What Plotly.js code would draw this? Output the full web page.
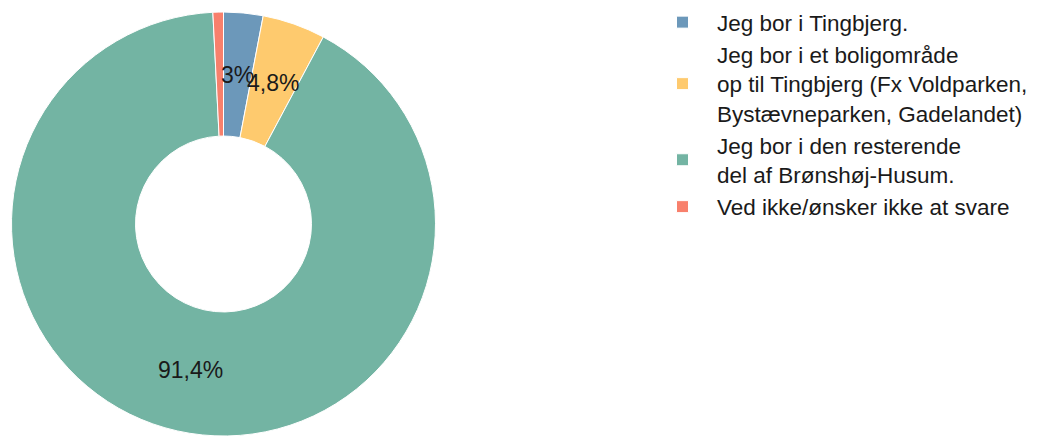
<!DOCTYPE html>
<html>
<head>
<meta charset="utf-8">
<script src="https://cdn.plot.ly/plotly-3.0.1.min.js"></script>
<style>html,body{margin:0;padding:0;background:#fff;}#chart{width:1053px;height:437px;}</style>
</head>
<body>
<div id="chart"></div>
<script>
const categories = [
  "Jeg bor i Tingbjerg.",
  "Jeg bor i et boligområde<br>op til Tingbjerg (Fx Voldparken,<br>Bystævneparken, Gadelandet)",
  "Jeg bor i den resterende<br>del af Brønshøj-Husum.",
  "Ved ikke/ønsker ikke at svare"
];
const values = [3.0, 4.8, 91.4, 0.8];
const valueLabels = ["3%", "4,8%", "91,4%", ""];
const colors = ["#6c98ba", "#feca6e", "#73b4a3", "#f8806c"];

const W = 1053, H = 437;
const cx = 223.5, cy = 224, R = 212, holeFrac = 0.415;
const domainX = [(cx - R) / W, (cx + R) / W];
const domainY = [1 - (cy + R) / H, 1 - (cy - R) / H];

// label positions at the ring's middle, from slice mid-angles (clockwise from 12 o'clock)
const total = values.reduce((a, b) => a + b, 0);
const rMid = R * (1 + holeFrac) / 2;
const annotations = [];
let cum = 0;
values.forEach((v, i) => {
  const mid = (cum + v / 2) / total * 2 * Math.PI;
  cum += v;
  if (!valueLabels[i]) return;
  const px = cx + rMid * Math.sin(mid);
  const py = cy - rMid * Math.cos(mid);
  annotations.push({
    xref: "paper", yref: "paper", x: px / W, y: 1 - py / H,
    xanchor: "center", yanchor: "middle", showarrow: false,
    text: valueLabels[i],
    font: {family: "Liberation Sans, Arial, sans-serif", size: 23, color: "#1a1a1a"}
  });
});

const data = [{
  type: "pie",
  labels: categories,
  values: values,
  hole: holeFrac,
  sort: false,
  direction: "clockwise",
  rotation: 0,
  textinfo: "none",
  hoverinfo: "label+percent",
  marker: {colors: colors, line: {color: "#ffffff", width: 1}},
  domain: {x: domainX, y: domainY}
}];

const layout = {
  width: W, height: H,
  margin: {l: 0, r: 0, t: 0, b: 0},
  paper_bgcolor: "#ffffff",
  showlegend: true,
  legend: {
    x: 648 / W, xanchor: "left", y: 1 - 1 / H, yanchor: "top",
    itemwidth: 59,
    font: {family: "Liberation Sans, Arial, sans-serif", size: 22.5, color: "#1a1a1a"},
    bgcolor: "rgba(0,0,0,0)",
    traceorder: "normal",
    valign: "middle"
  },
  annotations: annotations
};

Plotly.newPlot("chart", data, layout, {displayModeBar: false, staticPlot: true});
</script>
</body>
</html>
